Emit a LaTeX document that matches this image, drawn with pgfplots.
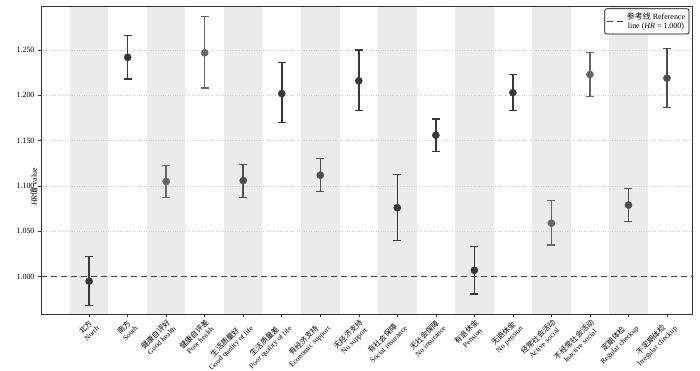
\documentclass[border=0pt]{standalone}
\usepackage{pgfplots}
\pgfplotsset{compat=1.18}
\usepackage{pgfplotstable}
\usepackage{fontspec}
\setmainfont{Liberation Serif}
\newfontfamily\cjk{Noto Sans CJK SC}
\definecolor{cdark}{HTML}{383838}
\definecolor{cmid}{HTML}{4E4E4E}
\definecolor{clight}{HTML}{666666}
\definecolor{band}{HTML}{EBEBEB}
\definecolor{axcol}{HTML}{333333}
\definecolor{refcol}{HTML}{444444}

\pgfplotstableread{
x y ep em
0 0.995 0.027 0.027
1 1.242 0.024 0.024
5 1.202 0.034 0.032
7 1.216 0.034 0.033
8 1.076 0.037 0.036
9 1.156 0.018 0.018
10 1.007 0.026 0.026
11 1.203 0.020 0.020
}\darkdata
\pgfplotstableread{
x y ep em
4 1.106 0.018 0.019
6 1.112 0.018 0.018
14 1.079 0.018 0.018
15 1.219 0.033 0.032
}\middata
\pgfplotstableread{
x y ep em
2 1.105 0.018 0.018
3 1.247 0.040 0.039
12 1.059 0.025 0.024
13 1.223 0.024 0.024
}\lightdata

\pgfplotsset{
  hrpt/.style={forget plot, only marks, #1, mark=*, mark size=3.6bp,
    mark options={fill=#1, draw=#1, line width=0.4pt},
    error bars/.cd, y dir=both, y explicit,
    error bar style={line width=1.5pt, draw=#1},
    error mark options={rotate=90, mark size=4bp, line width=1.3pt, draw=#1}},
  band/.style={forget plot, fill=band, draw=none, on layer=axis background},
}

\begin{document}
\begin{tikzpicture}
\begin{axis}[
  set layers,
  at={(0,0)}, anchor=south west,
  scale only axis,
  width=651bp, height=308bp,
  xmin=-1.25, xmax=15.65,
  ymin=0.9588, ymax=1.2986,
  xtick={0,...,15},
  xticklabels={
    {{\cjk 北方}\\North},
    {{\cjk 南方}\\South},
    {{\cjk 健康自评好}\\Good health},
    {{\cjk 健康自评差}\\Poor health},
    {{\cjk 生活质量好}\\Good quality of life},
    {{\cjk 生活质量差}\\Poor quality of life},
    {{\cjk 有经济支持}\\Economic support},
    {{\cjk 无经济支持}\\No support},
    {{\cjk 有社会保障}\\Social insurance},
    {{\cjk 无社会保障}\\No insurance},
    {{\cjk 有退休金}\\Pension},
    {{\cjk 无退休金}\\No pension},
    {{\cjk 经常社会活动}\\Active social},
    {{\cjk 不经常社会活动}\\Inactive social},
    {{\cjk 定期体检}\\Regular checkup},
    {{\cjk 不定期体检}\\Irregular checkup}},
  xticklabel style={rotate=45, anchor=north east, align=center,
    font=\fontsize{7.5}{8.5}\selectfont, inner sep=1pt},
  ytick={1.050,1.100,1.150,1.200,1.250},
  extra y ticks={1.000},
  extra y tick style={grid=none},
  yticklabel style={/pgf/number format/fixed, /pgf/number format/fixed zerofill,
    /pgf/number format/precision=3, font=\fontsize{8}{9}\selectfont},
  /pgf/number format/assume math mode=true,
  tick align=outside,
  xtick pos=bottom, ytick pos=left,
  major tick length=3bp,
  tick style={axcol, line width=0.6pt},
  axis line style={axcol, line width=0.9pt},
  ymajorgrids,
  grid style={dotted, gray!40, line width=0.6pt},
  ylabel={\textit{HR}{\cjk 值} value},
  every axis y label/.style={at={(rel axis cs:0,0.5)}, rotate=90, anchor=south,
    xshift=-27bp, font=\fontsize{8}{9}\selectfont},
  legend style={at={(rel axis cs:0.996,0.992)}, anchor=north east,
    draw=black, rounded corners=2pt, line width=0.7pt,
    font=\fontsize{8}{9}\selectfont, cells={align=center},
    inner sep=2pt},
  legend image post style={line width=1.2pt},
]
\addplot[band] coordinates {(-0.5,0.9588) (0.5,0.9588) (0.5,1.2986) (-0.5,1.2986)} --cycle;
\addplot[band] coordinates {(1.5,0.9588) (2.5,0.9588) (2.5,1.2986) (1.5,1.2986)} --cycle;
\addplot[band] coordinates {(3.5,0.9588) (4.5,0.9588) (4.5,1.2986) (3.5,1.2986)} --cycle;
\addplot[band] coordinates {(5.5,0.9588) (6.5,0.9588) (6.5,1.2986) (5.5,1.2986)} --cycle;
\addplot[band] coordinates {(7.5,0.9588) (8.5,0.9588) (8.5,1.2986) (7.5,1.2986)} --cycle;
\addplot[band] coordinates {(9.5,0.9588) (10.5,0.9588) (10.5,1.2986) (9.5,1.2986)} --cycle;
\addplot[band] coordinates {(11.5,0.9588) (12.5,0.9588) (12.5,1.2986) (11.5,1.2986)} --cycle;
\addplot[band] coordinates {(13.5,0.9588) (14.5,0.9588) (14.5,1.2986) (13.5,1.2986)} --cycle;
\addplot[refcol, line width=1.3pt, dash pattern=on 6bp off 4bp]
  coordinates {(-1.25,1) (15.65,1)};
\addlegendentry{{\cjk 参考线} Reference\\line (\textit{HR} = 1.000)}
\addplot[hrpt=cdark] table[x=x, y=y, y error plus=ep, y error minus=em] {\darkdata};
\addplot[hrpt=cmid] table[x=x, y=y, y error plus=ep, y error minus=em] {\middata};
\addplot[hrpt=clight] table[x=x, y=y, y error plus=ep, y error minus=em] {\lightdata};
\end{axis}
\pgfresetboundingbox
\path[use as bounding box] (-41bp,-57bp) rectangle (659bp,314bp);
\end{tikzpicture}
\end{document}
